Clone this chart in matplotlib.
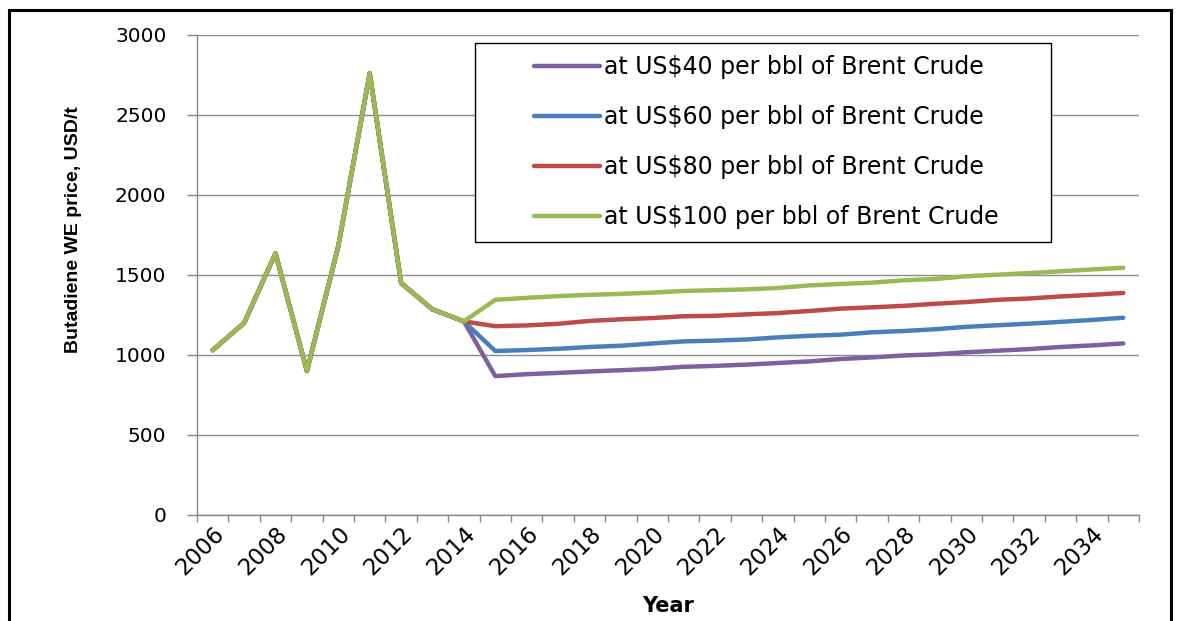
import numpy as np
import matplotlib
matplotlib.use("Agg")
import matplotlib.pyplot as plt
from matplotlib.patches import Rectangle

years = list(range(2006, 2036))
history = [1030, 1200, 1635, 900, 1680, 2760, 1450, 1285, 1210]
brent40 = [868, 880, 888, 897, 905, 913, 926, 932, 940, 950, 960, 975, 985, 997,
           1004, 1017, 1027, 1037, 1050, 1060, 1072]
brent60 = [1025, 1031, 1039, 1050, 1058, 1072, 1085, 1090, 1097, 1110, 1120, 1127,
           1142, 1150, 1161, 1176, 1186, 1196, 1207, 1219, 1233]
brent80 = [1180, 1185, 1195, 1213, 1223, 1231, 1242, 1245, 1254, 1262, 1275, 1290,
           1298, 1307, 1320, 1331, 1345, 1353, 1366, 1376, 1388]
brent100 = [1345, 1357, 1368, 1376, 1382, 1390, 1400, 1405, 1410, 1419, 1435, 1444,
            1452, 1467, 1475, 1492, 1502, 1512, 1523, 1535, 1545]
labels = ["at US$40 per bbl of Brent Crude", "at US$60 per bbl of Brent Crude",
          "at US$80 per bbl of Brent Crude", "at US$100 per bbl of Brent Crude"]
colors = ["#7D60A0", "#4A7EBB", "#BE4B48", "#98B954"]

W, H = 1181, 621
fig = plt.figure(figsize=(W / 100, H / 100), dpi=100)
fig.patch.set_facecolor("white")
ax = fig.add_axes([197 / W, 1 - 515 / H, 942 / W, 480 / H])

x = np.arange(len(years))
for lab, fut, col in zip(labels, [brent40, brent60, brent80, brent100], colors):
    ax.plot(x, history + fut, color=col, lw=3.2, solid_joinstyle="round",
            solid_capstyle="round", label=lab, zorder=3)

ax.set_xlim(-0.5, len(years) - 0.5)
ax.set_ylim(0, 3000)
ax.set_yticks(np.arange(0, 3001, 500))
ax.set_xticks(x[::2])
ax.set_xticklabels([str(y) for y in years[::2]], rotation=45, ha="right",
                   rotation_mode="anchor", fontsize=16.5)
ax.set_xticks(np.arange(-0.5, len(years), 1), minor=True)
ax.tick_params(axis="x", which="major", length=0, pad=5)
ax.tick_params(axis="x", which="minor", length=5, width=1, color="#868686", direction="out")
ax.tick_params(axis="y", length=7, width=1, color="#868686", labelsize=14.5, pad=15)

ax.yaxis.grid(True, color="#8c8c8c", lw=1.0)
ax.set_axisbelow(True)
for s in ["top", "right"]:
    ax.spines[s].set_visible(False)
for s in ["left", "bottom"]:
    ax.spines[s].set_color("#868686")
    ax.spines[s].set_linewidth(1.0)

ax.set_ylabel("Butadiene WE price, USD/t", fontsize=14, fontweight="bold",
              family=["Liberation Sans", "DejaVu Sans"])
ax.yaxis.set_label_coords((82 - 197) / 942, 0.594)
ax.set_xlabel("Year", fontsize=15, fontweight="bold")
ax.xaxis.set_label_coords(0.5, (515 - 596) / 480)
ax.xaxis.label.set_va("top")

# legend box
box = Rectangle((475 / W, 1 - 242 / H), (1051 - 475) / W, (242 - 43) / H,
                transform=fig.transFigure, facecolor="white", edgecolor="black",
                lw=1.0, zorder=4)
ax.add_patch(box)
box.set_clip_on(False)
leg = ax.legend(loc="upper left", bbox_to_anchor=(534 / W, 1 - 55 / H),
                bbox_transform=fig.transFigure, frameon=False, fontsize=17,
                handlelength=2.8, handletextpad=0.17, labelspacing=1.105,
                borderpad=0, borderaxespad=0)
leg.set_zorder(5)

# outer frame
frame = Rectangle((9.5 / W, -0.05), (1171 - 9.5) / W, 1.05 - 9.5 / H,
                  transform=fig.transFigure, fill=False, edgecolor="black", lw=2.2)
fig.add_artist(frame)

fig.savefig("out.png", dpi=100)
